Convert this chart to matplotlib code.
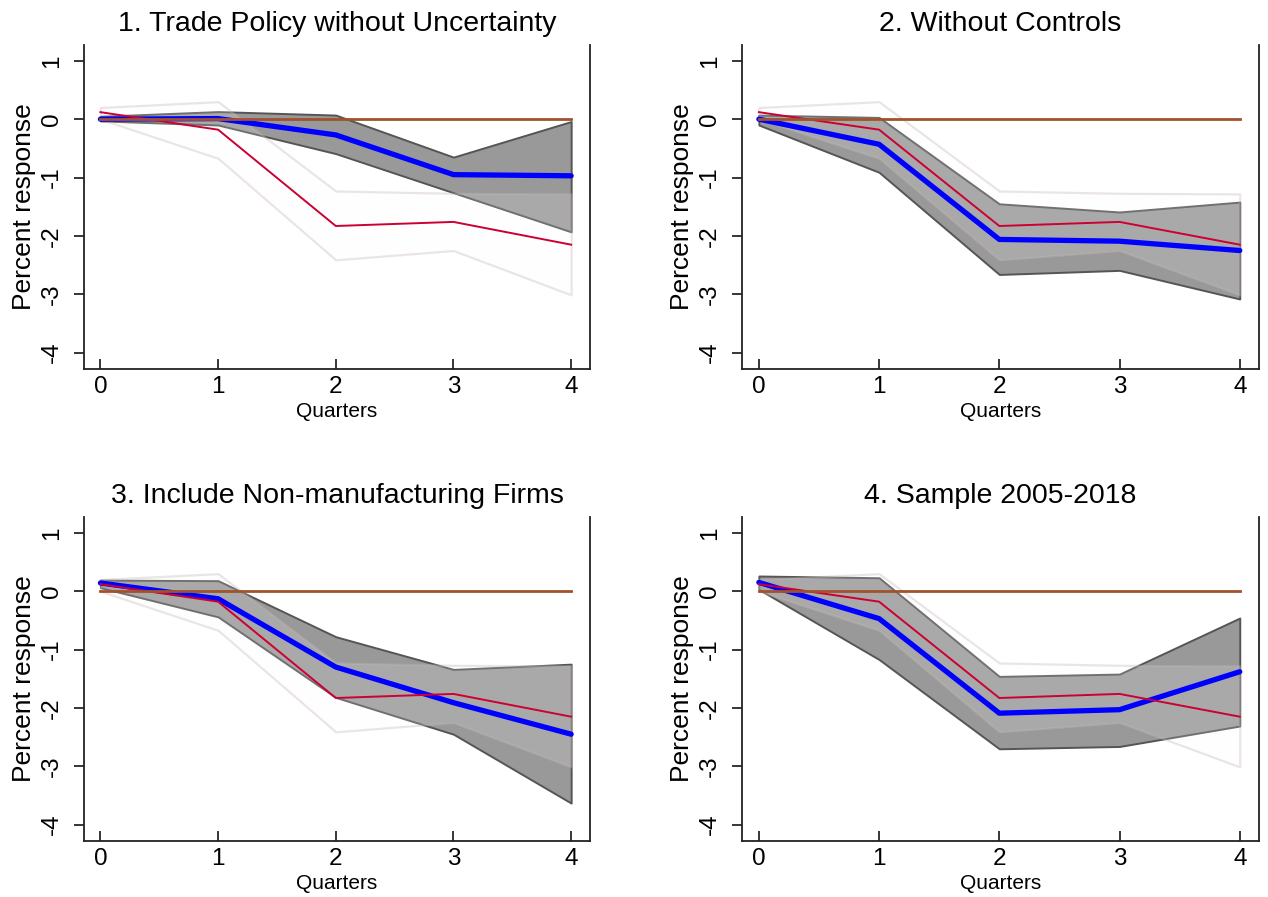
import matplotlib
matplotlib.use("Agg")
import matplotlib.pyplot as plt
import numpy as np

plt.rcParams['font.family'] = ['Liberation Sans', 'DejaVu Sans']
plt.rcParams['axes.unicode_minus'] = False

quarters = [0, 1, 2, 3, 4]

# baseline response (same in every panel)
base_mid = [0.12, -0.18, -1.83, -1.76, -2.15]
base_hi = [0.20, 0.30, -1.23, -1.27, -1.28]
base_lo = [0.00, -0.67, -2.41, -2.25, -3.01]

titles = [
    "1. Trade Policy without Uncertainty",
    "2. Without Controls",
    "3. Include Non-manufacturing Firms",
    "4. Sample 2005-2018",
]

p1_mid = [0.00, 0.01, -0.27, -0.95, -0.97]
p1_hi = [0.05, 0.13, 0.07, -0.65, -0.04]
p1_lo = [-0.03, -0.10, -0.59, -1.26, -1.93]

p2_mid = [0.00, -0.43, -2.06, -2.09, -2.25]
p2_hi = [0.07, 0.03, -1.45, -1.59, -1.42]
p2_lo = [-0.10, -0.91, -2.66, -2.59, -3.08]

p3_mid = [0.14, -0.13, -1.30, -1.91, -2.45]
p3_hi = [0.19, 0.18, -0.78, -1.34, -1.25]
p3_lo = [0.06, -0.44, -1.82, -2.45, -3.63]

p4_mid = [0.15, -0.47, -2.09, -2.03, -1.38]
p4_hi = [0.26, 0.23, -1.46, -1.42, -0.46]
p4_lo = [0.03, -1.17, -2.70, -2.66, -2.31]

panels = [(p1_mid, p1_hi, p1_lo), (p2_mid, p2_hi, p2_lo),
          (p3_mid, p3_hi, p3_lo), (p4_mid, p4_hi, p4_lo)]

yticks = [1, 0, -1, -2, -3, -4]

fig = plt.figure(figsize=(12.68, 8.97), dpi=100)

# axes boxes in figure fractions [left, bottom, width, height]
boxes = [
    [0.0662, 0.5886, 0.3991, 0.3612],
    [0.5852, 0.5886, 0.4077, 0.3612],
    [0.0662, 0.0624, 0.3991, 0.3612],
    [0.5852, 0.0624, 0.4077, 0.3612],
]

x = np.array(quarters)
for box, title, (mid, hi, lo) in zip(boxes, titles, panels):
    ax = fig.add_axes(box)

    ax.fill_between(x, lo, hi, facecolor='#999999', edgecolor='#555555', lw=1.4, zorder=1)
    # baseline band lightens what it covers
    ax.fill_between(x, base_lo, base_hi, facecolor=(0.99, 0.98, 0.98, 0.17),
                    edgecolor=(0.78, 0.72, 0.70, 0.35), lw=1.6, zorder=2)
    ax.plot(x, mid, color='#0000ff', lw=3.8, solid_capstyle='round', zorder=3)
    ax.plot(x, base_mid, color='#cc0033', lw=1.4, zorder=4)
    ax.plot(x, np.zeros(len(x)), color='#a0522d', lw=2.0, zorder=5)

    ax.set_xlim(-0.14, 4.16)
    ax.set_ylim(-4.28, 1.27)
    ax.set_xticks(quarters)
    ax.set_yticks(yticks)
    ax.spines['top'].set_visible(False)
    for s in ['left', 'bottom', 'right']:
        ax.spines[s].set_linewidth(1.3)
        ax.spines[s].set_color('#222222')
    ax.tick_params(axis='x', direction='in', length=7, width=1.1, labelsize=17.5, pad=5)
    ax.tick_params(axis='y', direction='out', length=7, width=1.1, labelsize=17.5,
                   pad=8, labelrotation=90)
    for lab in ax.get_yticklabels():
        lab.set_va('center')

    ax.set_title(title, fontsize=20.5, pad=10)
    ax.set_xlabel("Quarters", fontsize=15, labelpad=3)
    ax.set_ylabel("Percent response", fontsize=19, labelpad=4)

fig.savefig("out.png", dpi=100)
